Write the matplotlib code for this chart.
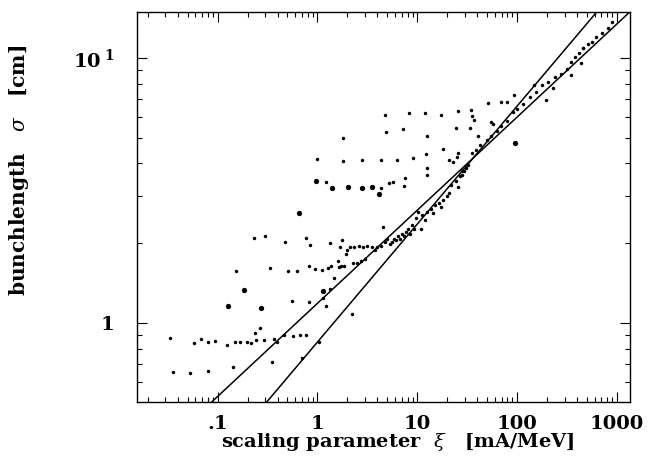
import numpy as np
import matplotlib
matplotlib.use('Agg')
import matplotlib.pyplot as plt
from matplotlib.ticker import FixedLocator, FixedFormatter, LogLocator, NullFormatter

# measured points (xi [mA/MeV], sigma [cm]); small dots
xi_small = [0.0335, 0.0358, 0.0524, 0.0576, 0.0684, 0.0804, 0.0804, 0.0953, 0.123, 0.142,
            0.149, 0.153, 0.169, 0.198, 0.218, 0.236, 0.240, 0.264, 0.293, 0.233, 0.30,
            0.335, 0.355, 0.368, 0.397, 0.467, 0.472, 0.504, 0.554, 0.575, 0.621, 0.664,
            0.697, 0.773, 0.766, 0.826, 0.826, 0.851, 0.954, 1.03, 1.10, 1.15, 1.21,
            1.27, 1.33, 1.34, 1.37, 1.46, 1.61, 1.66, 1.69, 1.74, 1.77, 1.86, 1.95, 2.00,
            2.14, 2.20, 2.25, 2.35, 2.47, 2.59, 2.72, 2.85, 2.99, 3.13, 3.55, 3.79, 3.97,
            4.37, 4.58, 4.81, 5.04, 5.28, 5.55, 5.81, 6.10, 6.40, 6.70, 7.03, 7.38, 7.73,
            8.11, 8.51, 8.92, 9.36, 9.81, 10.3, 10.8, 11.3, 11.9, 12.4, 13.7, 14.4, 15.1,
            16.6, 17.4, 18.2, 20.0, 21.0, 22.0, 24.2, 25.4, 26.7, 27.9, 29.3, 30.7, 32.2,
            35.5, 39.0, 42.9, 49.5, 54.4, 62.8, 69.0, 79.6, 91.8, 101, 116, 134, 155, 179,
            206, 238, 274, 316, 348, 383, 421, 463, 509, 560, 616, 710, 819, 901,
            1.21, 4.29, 5.19, 5.71, 7.38, 7.59,
            1.0, 1.82, 2.79, 4.37, 6.28, 9.09, 12.2, 12.4, 12.4, 18.2, 21.0, 23.1, 24.9,
            25.4, 27.9,
            1.82, 4.90, 7.17, 12.4, 24.2, 33.8, 40.9,
            4.72, 8.34, 11.9, 17.4, 25.4, 34.5, 35.5, 37.2, 50.9, 54.4, 57.1, 69.0, 79.6,
            93.6, 148, 193, 227, 348, 441, 463]
sigma_small = [0.877, 0.654, 0.648, 0.844, 0.871, 0.660, 0.851, 0.856, 0.827, 0.684,
               0.851, 1.57, 0.851, 0.851, 0.839, 0.916, 0.864, 0.957, 0.864, 2.09, 2.13,
               1.61, 0.714, 0.869, 0.851, 0.903, 2.02, 1.57, 1.21, 0.895, 1.57, 0.898,
               0.736, 0.903, 2.09, 1.64, 1.20, 1.97, 1.60, 0.851, 1.59, 1.24, 1.16,
               1.61, 1.34, 2.00, 1.64, 1.48, 1.72, 1.62, 1.93, 1.64, 2.05, 1.64, 1.82, 1.89,
               1.93, 1.08, 1.69, 1.93, 1.69, 1.95, 1.72, 1.93, 1.74, 1.96, 1.93, 1.88, 1.93,
               1.96, 2.30, 2.02, 2.08, 1.99, 2.02, 2.08, 2.05, 2.13, 2.08, 2.17, 2.13, 2.20,
               2.27, 2.17, 2.34, 2.27, 2.48, 2.63, 2.27, 2.55, 2.44, 2.63, 2.70, 2.59, 2.79,
               2.83, 2.74, 2.91, 3.00, 3.08, 3.32, 3.42, 3.27, 3.57, 3.62, 3.73, 3.84, 3.96,
               4.38, 4.51, 4.71, 4.92, 5.07, 5.30, 5.54, 5.78, 6.23, 6.41, 6.70, 7.10, 7.42, 7.87,
               8.10, 8.47, 8.72, 9.11, 9.65, 10.1, 10.4, 10.9, 11.3, 11.5, 12.0, 12.4, 12.9, 13.7,
               3.40, 3.22, 3.37, 3.40, 3.30, 3.52,
               4.15, 4.10, 4.12, 4.13, 4.11, 4.20, 4.32, 3.62, 3.84, 4.55, 4.13, 4.03, 4.22,
               4.38, 3.73,
               5.00, 5.24, 5.41, 5.07, 5.42, 5.46, 5.06,
               6.08, 6.19, 6.19, 6.10, 6.32, 6.35, 6.04, 5.82, 6.74, 5.75, 5.65, 6.83, 6.80,
               7.25, 7.91, 6.95, 7.71, 8.59, 9.57, 10.9]

# larger dots
xi_big = [0.126, 0.184, 0.272, 0.652, 1.13, 0.972, 1.40, 2.04, 2.77, 3.55, 4.17, 96.2]
sigma_big = [1.16, 1.33, 1.14, 2.61, 1.32, 3.44, 3.22, 3.27, 3.22, 3.27, 3.07, 4.79]

line_a_xi = [0.087, 1350]
line_a_sigma = [0.503, 14.9]
line_b_xi = [0.31, 630]
line_b_sigma = [0.503, 14.9]

xticks = [0.1, 1, 10, 100, 1000]
xticklabels = ['.1', '1', '10', '100', '1000']
yticks = [1, 10]
yticklabels = ['1', r'$\mathbf{10^{\ 1}}$']

plt.rcParams['font.family'] = ['DejaVu Serif']
plt.rcParams['mathtext.fontset'] = 'dejavuserif'

fig = plt.figure(figsize=(6.48, 4.57), dpi=100)
ax = fig.add_axes([0.211, 0.120, 0.761, 0.854])
ax.set_xscale('log')
ax.set_yscale('log')

ax.plot(xi_small, sigma_small, 'o', color='black', markersize=2.5, markeredgewidth=0)
ax.plot(xi_big, sigma_big, 'o', color='black', markersize=3.8, markeredgewidth=0)
ax.plot(line_a_xi, line_a_sigma, color='black', lw=1.1)
ax.plot(line_b_xi, line_b_sigma, color='black', lw=1.1)

ax.set_xlim(0.0155, 1350)
ax.set_ylim(0.503, 14.9)

ax.xaxis.set_major_locator(FixedLocator(xticks))
ax.xaxis.set_major_formatter(FixedFormatter(xticklabels))
ax.xaxis.set_minor_locator(LogLocator(base=10, subs=np.arange(2, 10)))
ax.xaxis.set_minor_formatter(NullFormatter())
ax.yaxis.set_major_locator(FixedLocator(yticks))
ax.yaxis.set_major_formatter(FixedFormatter(yticklabels))
ax.yaxis.set_minor_locator(LogLocator(base=10, subs=np.arange(2, 10)))
ax.yaxis.set_minor_formatter(NullFormatter())

ax.tick_params(which='both', direction='in', top=True, right=True, width=0.8)
ax.tick_params(which='major', length=7)
ax.tick_params(which='minor', length=3.5)
ax.tick_params(axis='x', which='major', pad=9, labelsize=14)
ax.tick_params(axis='y', which='major', pad=16, labelsize=14)
for lab in ax.get_xticklabels() + ax.get_yticklabels():
    lab.set_fontweight('bold')
for s in ax.spines.values():
    s.set_linewidth(1.0)

ax.set_xlabel(r'scaling parameter  $\xi$   [mA/MeV]', fontsize=14, fontweight='bold')
ax.set_ylabel(r'bunchlength   $\sigma$   [cm]', fontsize=14.5, fontweight='bold')
ax.xaxis.set_label_coords(0.53, -0.075, transform=ax.transAxes)
ax.yaxis.set_label_coords(-0.215, 0.595, transform=ax.transAxes)

fig.savefig('out.png', dpi=100)
